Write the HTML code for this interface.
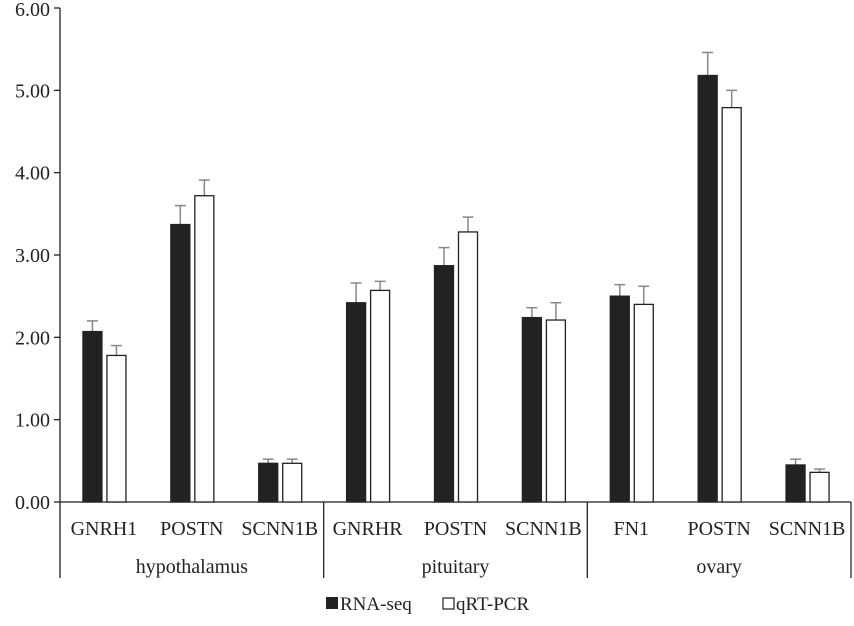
<!DOCTYPE html>
<html><head><meta charset="utf-8"><style>body{margin:0;background:#fff}svg{font-family:"Liberation Serif",serif}</style></head>
<body>
<svg id="c" width="854" height="621" xmlns="http://www.w3.org/2000/svg"></svg>
<script>
const categories=["GNRH1","POSTN","SCNN1B","GNRHR","POSTN","SCNN1B","FN1","POSTN","SCNN1B"];
const groups=["hypothalamus","pituitary","ovary"];
const rnaSeq=[2.07,3.37,0.47,2.42,2.87,2.24,2.50,5.18,0.45];
const rnaErr=[0.13,0.23,0.05,0.24,0.22,0.12,0.14,0.28,0.07];
const qpcr=[1.78,3.72,0.47,2.57,3.28,2.21,2.40,4.79,0.36];
const qpcrErr=[0.12,0.19,0.05,0.11,0.18,0.21,0.22,0.21,0.04];
const yTicks=[0,1,2,3,4,5,6];
const svg=document.getElementById('c');const NS='http://www.w3.org/2000/svg';
function mk(t,a,p){const e=document.createElementNS(NS,t);for(const k in a)e.setAttribute(k,a[k]);(p||svg).appendChild(e);return e;}
const x0=60,x1=851,y0=502,yTop=8,yMax=6;
const y=v=>y0-(y0-yTop)*v/yMax;
const cw=(x1-x0)/categories.length;
const cx=i=>x0+cw*(i+0.5);
yTicks.forEach(t=>{
  const l=mk('line',{x1:54,x2:x0,y1:y(t),y2:y(t),stroke:'#222','stroke-width':1.3});
  
  const tx=mk('text',{x:50,y:Math.max(y(t)+7,16),'text-anchor':'end','font-size':20,fill:'#222'});tx.textContent=t.toFixed(2);
  
});
const ax=mk('line',{x1:x0,x2:x0,y1:yTop,y2:578,stroke:'#222','stroke-width':1.3});

const bx=mk('line',{x1:x0,x2:x1,y1:y0,y2:y0,stroke:'#222','stroke-width':1.3});

groups.forEach((g,gi)=>{
  const xe=x0+cw*3*(gi+1);
  const s=mk('line',{x1:xe,x2:xe,y1:y0,y2:578,stroke:'#222','stroke-width':1.3});
  
  const t=mk('text',{x:x0+cw*3*(gi+0.5),y:573,'text-anchor':'middle','font-size':20,fill:'#222'});t.textContent=g;
  
});
function bar(v,e,xl,fill,name){
  const el=mk('line',{x1:xl+9.5,x2:xl+9.5,y1:y(v),y2:y(v+e),stroke:'#888','stroke-width':1.5});
  
  const ec=mk('line',{x1:xl+4,x2:xl+15,y1:y(v+e),y2:y(v+e),stroke:'#888','stroke-width':1.5});
  
  const r=mk('rect',{x:xl,y:y(v),width:19,height:y0-y(v),fill:fill,stroke:'#222','stroke-width':1.3});
  
}
categories.forEach((c,i)=>{
  bar(rnaSeq[i],rnaErr[i],cx(i)-21,'#222','rna-seq');
  bar(qpcr[i],qpcrErr[i],cx(i)+3,'#fff','qrt-pcr');
  const t=mk('text',{x:cx(i),y:535,'text-anchor':'middle','font-size':20,fill:'#222'});t.textContent=c;
  
});
const lg=mk('g',{});
const s1=mk('rect',{x:326,y:597,width:12,height:12,fill:'#222'},lg);
const t1=mk('text',{x:340,y:610,'font-size':19,fill:'#222'},lg);t1.textContent='RNA-seq';
const s2=mk('rect',{x:443,y:598,width:11,height:11,fill:'#fff',stroke:'#222','stroke-width':1.2},lg);
const t2=mk('text',{x:456,y:610,'font-size':19,fill:'#222'},lg);t2.textContent='qRT-PCR';
</script>
</body></html>
